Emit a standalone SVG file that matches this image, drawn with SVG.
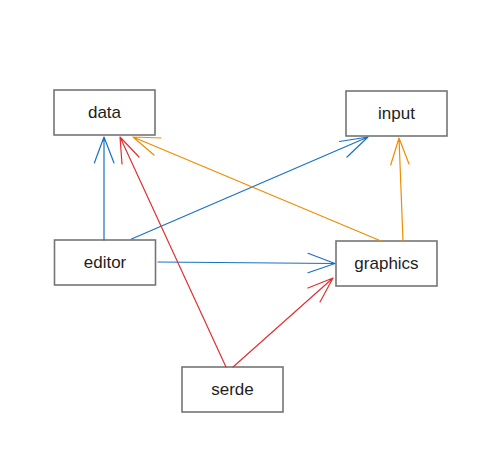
<svg xmlns="http://www.w3.org/2000/svg" width="496" height="471" viewBox="0 0 496 471">
<style>
.box{fill:#fff;stroke:#757575;stroke-width:1.6}
.lbl{font-family:"Liberation Sans",Arial,sans-serif;font-size:17px;fill:#1e1e1e;text-anchor:middle;dominant-baseline:central}
.c{fill:none;stroke-width:1.2;stroke-linecap:round;stroke-linejoin:round}
.b{stroke:#1971c2}
.o{stroke:#f08c00}
.r{stroke:#e03131}
</style>
<rect width="496" height="471" fill="#fff"/>
<g id="data"><rect class="box" x="54" y="90" width="101" height="45"/><text class="lbl" x="104.5" y="112.5">data</text></g>
<g id="input"><rect class="box" x="346" y="91" width="101" height="45"/><text class="lbl" x="396.5" y="113.5">input</text></g>
<g id="editor"><rect class="box" x="54.5" y="240" width="101" height="45"/><text class="lbl" x="105" y="262.5">editor</text></g>
<g id="graphics"><rect class="box" x="336" y="241" width="101" height="45"/><text class="lbl" x="386.5" y="263.5">graphics</text></g>
<g id="serde"><rect class="box" x="182" y="367" width="101" height="45"/><text class="lbl" x="232.5" y="389.5">serde</text></g>
<g id="connectors">
<path class="c b" d="M104 240 L104 137 M94.3 163 L104 137 L114 163"/>
<path class="c b" d="M131.5 239 L368 137 M339.5 141.5 L368 137 L347 157"/>
<path class="c b" d="M158 262 L335 263.5 M308 253.3 L335 263.5 L308 272.7"/>
<path class="c o" d="M381 241 L133 137 M154 155 L133 137 L161 138"/>
<path class="c o" d="M403 241 L399 138 M390.7 165 L399 138 L409 164"/>
<path class="c r" d="M226 367 L120 137 M122 164 L120 137 L139 157"/>
<path class="c r" d="M233 367 L333 278 M308 288 L333 278 L320 302"/>
</g>
</svg>
